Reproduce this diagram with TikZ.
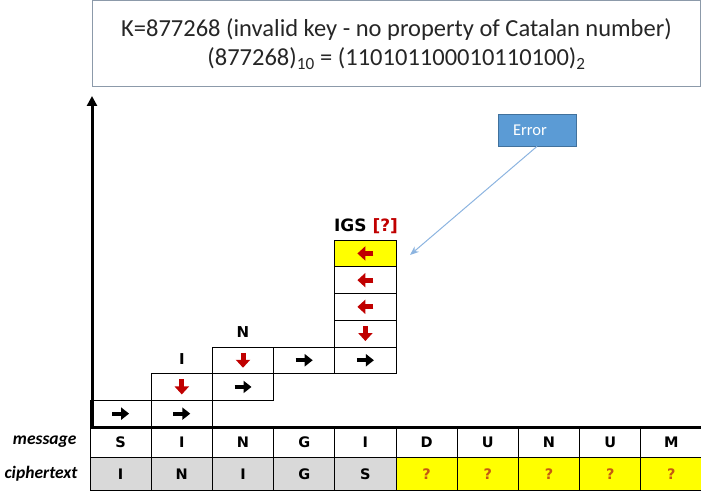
\documentclass[tikz,border=0pt]{standalone}
\usepackage{fontspec}
\setmainfont{Carlito}
\newfontfamily\cellfont{DejaVu Sans}
\usetikzlibrary{arrows.meta,calc}
\definecolor{arrred}{HTML}{C00000}
\definecolor{qorange}{HTML}{C55A11}
\definecolor{errblue}{HTML}{5B9BD5}
\definecolor{errline}{HTML}{41719C}
\definecolor{linkblue}{HTML}{8CB4E0}
\definecolor{boxgray}{HTML}{8C9AAA}
\definecolor{cellgray}{HTML}{D9D9D9}
\definecolor{cellyellow}{HTML}{FFFF00}
\begin{document}
\begin{tikzpicture}[x=1pt,y=-1pt,
  cell/.style={draw=black, line width=0.8pt, minimum width=61.2pt, minimum height=26.7pt, inner sep=0pt},
  trow/.style={draw=black, line width=0.8pt, minimum width=61.2pt, inner sep=0pt,
    font=\cellfont\bfseries\fontsize{14.5}{14.5}\selectfont},
  msg/.style={trow, minimum height=30pt},
  ciph/.style={trow, minimum height=33.5pt, fill=cellgray},
  qcell/.style={trow, minimum height=33.5pt, fill=cellyellow, text=qorange},
  lbl/.style={font=\cellfont\bfseries\fontsize{15}{15}\selectfont},
  rowlbl/.style={font=\bfseries\itshape\fontsize{17.5}{17.5}\selectfont, anchor=east},
  blk/.style={black, line width=4pt, -{Triangle[length=8pt,width=12pt]}},
  red/.style={arrred, line width=5pt, -{Triangle[length=8pt,width=14pt]}},
  axis/.style={black, line width=3pt},
]
\useasboundingbox (0,0) rectangle (701,492);

% title box
\node[draw=boxgray, line width=1pt, minimum width=608pt, minimum height=86pt, anchor=north west,
  align=center, font=\fontsize{24.5}{29}\selectfont, text=black!85] (title) at (92,0.5)
  {K=877268 (invalid key - no property of Catalan number)\\
   (877268)\textsubscript{10} = (110101100010110100)\textsubscript{2}};

% axes
\coordinate (axb) at (92,428.5);
\coordinate (axt) at (92,96);
\coordinate (hl) at (90,427);
\coordinate (hr) at (701,427);
\draw[axis, -{Triangle[length=10pt,width=10pt]}] (axb) -- (axt);

% staircase cells
\node[cell] (r0c0) at (120.6,413.65) {};
\node[cell] (r0c1) at (181.8,413.65) {};
\node[cell] (r1c1) at (181.8,386.95) {};
\node[cell] (r1c2) at (243.0,386.95) {};
\node[cell] (r2c2) at (243.0,360.25) {};
\node[cell] (r2c3) at (304.2,360.25) {};
\node[cell] (r2c4) at (365.4,360.25) {};
\node[cell] (r3c4) at (365.4,333.55) {};
\node[cell] (r4c4) at (365.4,306.85) {};
\node[cell] (r5c4) at (365.4,280.15) {};
\node[cell, fill=cellyellow] (r6c4) at (365.4,253.45) {};

% arrows in cells
\draw[blk] ($(r0c0)+(-8.5,0)$) -- ($(r0c0)+(8.5,0)$);
\draw[blk] ($(r0c1)+(-8.5,0)$) -- ($(r0c1)+(8.5,0)$);
\draw[red] ($(r1c1)+(0,-7.5)$) -- ($(r1c1)+(0,7.5)$);
\draw[blk] ($(r1c2)+(-8.5,0)$) -- ($(r1c2)+(8.5,0)$);
\draw[red] ($(r2c2)+(0,-7.5)$) -- ($(r2c2)+(0,7.5)$);
\draw[blk] ($(r2c3)+(-8.5,0)$) -- ($(r2c3)+(8.5,0)$);
\draw[blk] ($(r2c4)+(-8.5,0)$) -- ($(r2c4)+(8.5,0)$);
\draw[red] ($(r3c4)+(0,-7.5)$) -- ($(r3c4)+(0,7.5)$);
\draw[red] ($(r4c4)+(8,0)$) -- ($(r4c4)+(-8,0)$);
\draw[red] ($(r5c4)+(8,0)$) -- ($(r5c4)+(-8,0)$);
\draw[red] ($(r6c4)+(8,0)$) -- ($(r6c4)+(-8,0)$);

% labels above
\node[lbl] (lI) at (181.8,359) {I};
\node[lbl] (lN) at (243.0,332.5) {N};
\node[lbl, font=\cellfont\bfseries\fontsize{17}{17}\selectfont] (lIGS) at (366,226) {IGS \textcolor{arrred}{[?]}};

% error box
\node[draw=errline, fill=errblue, line width=0.8pt, minimum width=78pt, minimum height=32pt,
  text width=48pt, align=left, inner sep=0pt,
  text=white, font=\fontsize{16.5}{16.5}\selectfont] (err) at (537,130) {Error};
\coordinate (errtip) at (410,255);
\draw[linkblue, line width=1pt, -{Stealth[length=9pt,width=7pt]}] (err.south) -- (errtip);

% table
\node[rowlbl] (mlbl) at (80,442) {message};
\node[rowlbl] (clbl) at (81,474) {ciphertext};
\foreach \t [count=\i from 0] in {S,I,N,G,I,D,U,N,U,M}{
  \node[msg] (m\i) at ({120.6+61.2*\i},442) {\t};
}
\foreach \t [count=\i from 0] in {I,N,I,G,S}{
  \node[ciph] (c\i) at ({120.6+61.2*\i},473.75) {\t};
}
\foreach \i in {5,...,9}{
  \node[qcell] (c\i) at ({120.6+61.2*\i},473.75) {?};
}
\draw[axis] (hl) -- (hr);
\end{tikzpicture}
\end{document}
